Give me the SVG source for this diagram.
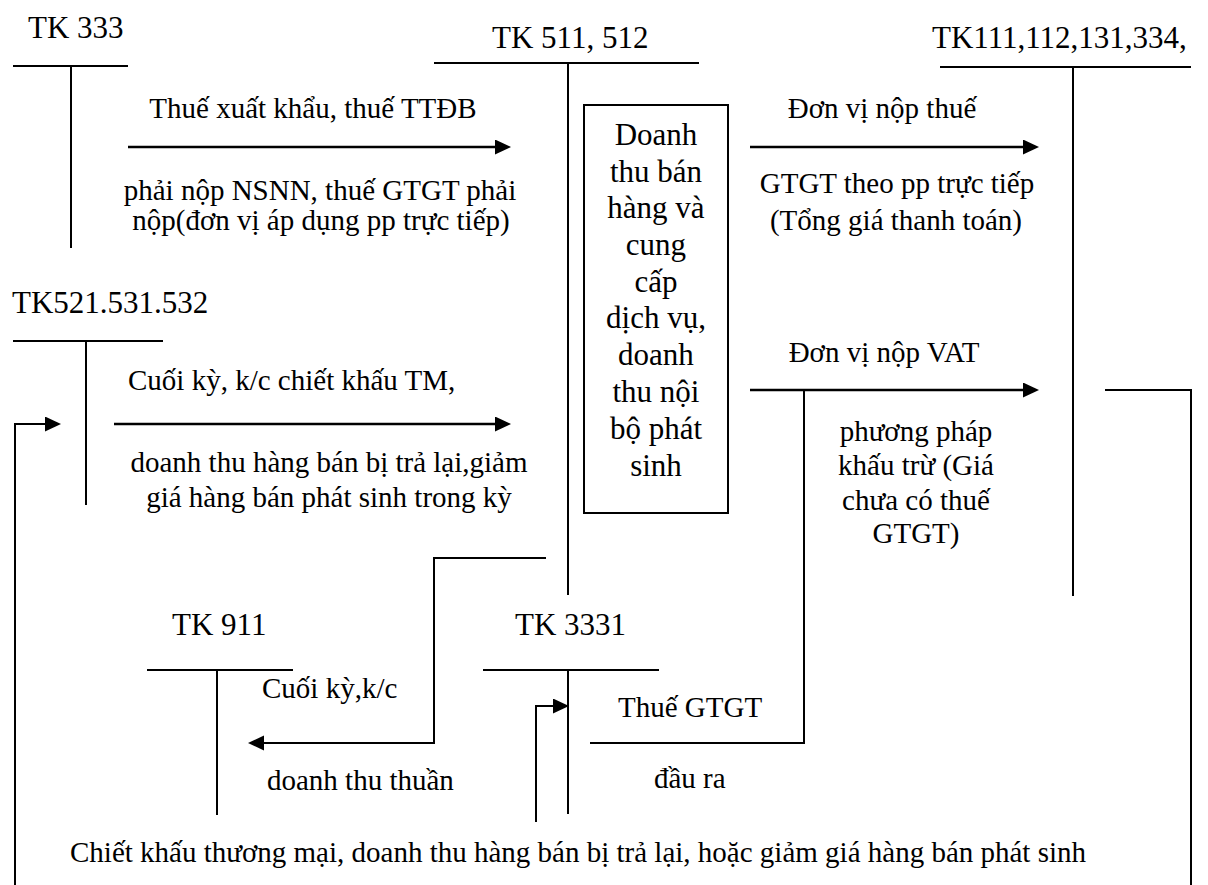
<svg xmlns="http://www.w3.org/2000/svg" width="1208" height="885" viewBox="0 0 1208 885" font-family="Liberation Serif, Times New Roman, serif">
<style>
.ln{stroke:#000;stroke-width:2;fill:none}
.ar{stroke:#000;stroke-width:2.5;fill:none}
.h{font-size:31px}
.t{font-size:29px}
.b{font-size:31px;text-anchor:middle}
.m{text-anchor:middle}
</style>
<defs>
<marker id="ah" markerUnits="userSpaceOnUse" markerWidth="16" markerHeight="16" refX="7" refY="7.5" orient="auto">
<path d="M0,0 L16,7.5 L0,15 z" fill="#000"/>
</marker>
</defs>
<rect width="1208" height="885" fill="#fff"/>

<g id="tk333">
<text class="h" x="28" y="38">TK 333</text>
<line class="ln" x1="13" y1="66" x2="128" y2="66"/>
<line class="ln" x1="71" y1="66" x2="71" y2="248"/>
</g>

<g id="tk511">
<text class="h" x="492" y="48">TK 511, 512</text>
<line class="ln" x1="434" y1="63" x2="699" y2="63"/>
<line class="ln" x1="568" y1="63" x2="568" y2="595"/>
</g>

<g id="revenue-box">
<rect class="ln" x="584" y="105" width="144" height="408"/>
<text class="b" x="656" y="145">Doanh</text>
<text class="b" x="656" y="182">thu bán</text>
<text class="b" x="656" y="218">hàng và</text>
<text class="b" x="656" y="255">cung</text>
<text class="b" x="656" y="292">cấp</text>
<text class="b" x="656" y="328">dịch vụ,</text>
<text class="b" x="656" y="365">doanh</text>
<text class="b" x="656" y="402">thu nội</text>
<text class="b" x="656" y="439">bộ phát</text>
<text class="b" x="656" y="476">sinh</text>
</g>

<g id="tk111">
<text class="h" x="932" y="48">TK111,112,131,334,</text>
<line class="ln" x1="940" y1="67" x2="1191" y2="67"/>
<line class="ln" x1="1073" y1="67" x2="1073" y2="596"/>
</g>

<g id="tk521">
<text class="h" x="12" y="313">TK521.531.532</text>
<line class="ln" x1="13" y1="341" x2="163" y2="341"/>
<line class="ln" x1="86" y1="341" x2="86" y2="505"/>
</g>

<g id="tk911">
<text class="h" x="172" y="635">TK 911</text>
<line class="ln" x1="147" y1="670" x2="293" y2="670"/>
<line class="ln" x1="217" y1="670" x2="217" y2="815"/>
</g>

<g id="tk3331">
<text class="h" x="515" y="635">TK 3331</text>
<line class="ln" x1="483" y1="670" x2="659" y2="670"/>
<line class="ln" x1="568" y1="670" x2="568" y2="814"/>
</g>

<g id="connectors">
<path class="ar" d="M128,147 H502" marker-end="url(#ah)"/>
<path class="ar" d="M750,147 H1030" marker-end="url(#ah)"/>
<path class="ar" d="M114,424 H502" marker-end="url(#ah)"/>
<path class="ar" d="M750,390 H1030" marker-end="url(#ah)"/>
<path class="ln" d="M15,885 V424 H52" marker-end="url(#ah)"/>
<path class="ln" d="M1105,390 H1191 V885"/>
<path class="ln" d="M546,558 H434 V743 H257" marker-end="url(#ah)"/>
<path class="ln" d="M536,822 V706 H560" marker-end="url(#ah)"/>
<path class="ln" d="M590,743 H804 V390"/>
</g>

<g id="labels">
<text class="t m" x="313" y="118">Thuế xuất khẩu, thuế TTĐB</text>
<text class="t m" x="320" y="200">phải nộp NSNN, thuế GTGT phải</text>
<text class="t m" x="321" y="230">nộp(đơn vị áp dụng pp trực tiếp)</text>
<text class="t m" x="882" y="118">Đơn vị nộp thuế</text>
<text class="t m" x="897" y="193">GTGT theo pp trực tiếp</text>
<text class="t m" x="896" y="230">(Tổng giá thanh toán)</text>
<text class="t" x="128" y="390">Cuối kỳ, k/c chiết khấu TM,</text>
<text class="t m" x="329" y="472">doanh thu hàng bán bị trả lại,giảm</text>
<text class="t m" x="329" y="507">giá hàng bán phát sinh trong kỳ</text>
<text class="t m" x="884" y="362">Đơn vị nộp VAT</text>
<text class="t m" x="916" y="441">phương pháp</text>
<text class="t m" x="916" y="475">khấu trừ (Giá</text>
<text class="t m" x="916" y="510">chưa có thuế</text>
<text class="t m" x="916" y="543">GTGT)</text>
<text class="t" x="262" y="698">Cuối kỳ,k/c</text>
<text class="t" x="267" y="790">doanh thu thuần</text>
<text class="t" x="618" y="717">Thuế GTGT</text>
<text class="t" x="654" y="788">đầu ra</text>
<text class="t" x="70" y="862">Chiết khấu thương mại, doanh thu hàng bán bị trả lại, hoặc giảm giá hàng bán phát sinh</text>
</g>
</svg>
